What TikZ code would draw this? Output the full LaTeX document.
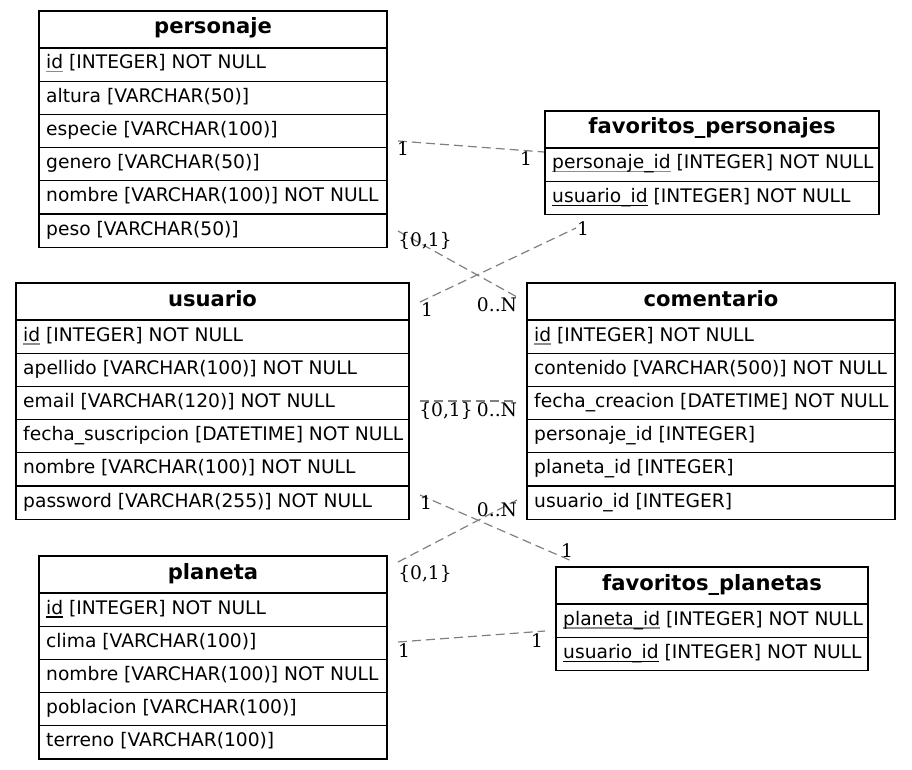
\documentclass[tikz,border=0pt]{standalone}
\usepackage{fontspec}
\setmainfont{DejaVu Sans}
\newfontfamily\lblfont{DejaVu Serif}
\definecolor{edgegray}{HTML}{808080}
\definecolor{ulgray}{HTML}{8C8C8C}
\newcommand\ukey[2][black]{\setbox0\hbox{#2}\rlap{\color{#1}\rule[-3.5pt]{\wd0}{1.1pt}}\box0\relax}
\newcommand\ehead[5]{%
  \node[hdrbox, minimum width=#4pt] (#1) at (#2,#3) {#5};}
\newcommand\erow[6]{%
  \node[rowbox, minimum width=#4pt] (#1) at (#2,{#3+37+#5*33.2}) {};
  \node[rowtext] (#1-t) at ([xshift=7pt,yshift=-21pt]#1.north west) {#6};}
\tikzset{
  hdrbox/.style={draw, line width=1.2pt, anchor=north west, inner sep=0pt, outer sep=0pt,
    minimum height=37pt, text height=23pt, text depth=14pt, font=\fontsize{21.1}{24}\selectfont\bfseries},
  rowbox/.style={draw, line width=1.2pt, anchor=north west, inner sep=0pt, outer sep=0pt,
    minimum height=33.2pt},
  rowtext/.style={anchor=base west, inner sep=0pt, font=\fontsize{18.67}{22}\selectfont},
  rel/.style={draw=edgegray, line width=1.2pt, dash pattern=on 9pt off 5pt},
  lbl/.style={anchor=base, inner sep=0pt, font=\lblfont\fontsize{18.67}{22}\selectfont}
}
\begin{document}
\begin{tikzpicture}[x=1pt,y=-1pt]
\useasboundingbox (0,0) rectangle (912,770);
% personaje
\ehead{per}{39}{11}{348}{personaje}
\erow{per1}{39}{11}{348}{0}{\ukey[ulgray]{id} [INTEGER] NOT NULL}
\erow{per2}{39}{11}{348}{1}{altura [VARCHAR(50)]}
\erow{per3}{39}{11}{348}{2}{especie [VARCHAR(100)]}
\erow{per4}{39}{11}{348}{3}{genero [VARCHAR(50)]}
\erow{per5}{39}{11}{348}{4}{nombre [VARCHAR(100)] NOT NULL}
\erow{per6}{39}{11}{348}{5}{peso [VARCHAR(50)]}
% favoritos_personajes
\ehead{fp}{545}{111}{334}{favoritos\_personajes}
\erow{fp1}{545}{111}{334}{0}{\ukey[ulgray]{personaje\_id} [INTEGER] NOT NULL}
\erow{fp2}{545}{111}{334}{1}{\ukey{usuario\_id} [INTEGER] NOT NULL}
% usuario
\ehead{usu}{16}{283}{393}{usuario}
\erow{usu1}{16}{283}{393}{0}{\ukey[ulgray]{id} [INTEGER] NOT NULL}
\erow{usu2}{16}{283}{393}{1}{apellido [VARCHAR(100)] NOT NULL}
\erow{usu3}{16}{283}{393}{2}{email [VARCHAR(120)] NOT NULL}
\erow{usu4}{16}{283}{393}{3}{fecha\_suscripcion [DATETIME] NOT NULL}
\erow{usu5}{16}{283}{393}{4}{nombre [VARCHAR(100)] NOT NULL}
\erow{usu6}{16}{283}{393}{5}{password [VARCHAR(255)] NOT NULL}
% comentario
\ehead{com}{527}{283}{368}{comentario}
\erow{com1}{527}{283}{368}{0}{\ukey[ulgray]{id} [INTEGER] NOT NULL}
\erow{com2}{527}{283}{368}{1}{contenido [VARCHAR(500)] NOT NULL}
\erow{com3}{527}{283}{368}{2}{fecha\_creacion [DATETIME] NOT NULL}
\erow{com4}{527}{283}{368}{3}{personaje\_id [INTEGER]}
\erow{com5}{527}{283}{368}{4}{planeta\_id [INTEGER]}
\erow{com6}{527}{283}{368}{5}{usuario\_id [INTEGER]}
% planeta
\ehead{pla}{39}{556}{348}{planeta}
\erow{pla1}{39}{556}{348}{0}{\ukey{id} [INTEGER] NOT NULL}
\erow{pla2}{39}{556}{348}{1}{clima [VARCHAR(100)]}
\erow{pla3}{39}{556}{348}{2}{nombre [VARCHAR(100)] NOT NULL}
\erow{pla4}{39}{556}{348}{3}{poblacion [VARCHAR(100)]}
\erow{pla5}{39}{556}{348}{4}{terreno [VARCHAR(100)]}
% favoritos_planetas
\ehead{fpl}{556}{567}{312}{favoritos\_planetas}
\erow{fpl1}{556}{567}{312}{0}{\ukey[ulgray]{planeta\_id} [INTEGER] NOT NULL}
\erow{fpl2}{556}{567}{312}{1}{\ukey{usuario\_id} [INTEGER] NOT NULL}
% edge end points
\coordinate (e1a) at (398,141); \coordinate (e1b) at (544,152);
\coordinate (e2a) at (398,231); \coordinate (e2b) at (517,297);
\coordinate (e3a) at (420,302); \coordinate (e3b) at (576,228);
\coordinate (e4a) at (420,401); \coordinate (e4b) at (517,401);
\coordinate (e5a) at (420,495); \coordinate (e5b) at (574,562);
\coordinate (e6a) at (398,562); \coordinate (e6b) at (517,500);
\coordinate (e7a) at (398,642); \coordinate (e7b) at (545,631);
\draw[rel] (e1a) -- (e1b);
\draw[rel] (e2a) -- (e2b);
\draw[rel] (e3a) -- (e3b);
\draw[rel] (e4a) -- (e4b);
\draw[rel] (e5a) -- (e5b);
\draw[rel] (e6a) -- (e6b);
\draw[rel] (e7a) -- (e7b);
% labels
\node[lbl] (l1a) at (403,156) {1};
\node[lbl] (l1b) at (526,166) {1};
\node[lbl] (l2a) at (425,246) {\{0,1\}};
\node[lbl] (l2b) at (497,311) {0..N};
\node[lbl] (l3a) at (427,316) {1};
\node[lbl] (l3b) at (583,235) {1};
\node[lbl] (l4a) at (446,416) {\{0,1\}};
\node[lbl] (l4b) at (497,416) {0..N};
\node[lbl] (l5a) at (426,509) {1};
\node[lbl] (l5b) at (567,557) {1};
\node[lbl] (l6a) at (425,579) {\{0,1\}};
\node[lbl] (l6b) at (497,516) {0..N};
\node[lbl] (l7a) at (404,657) {1};
\node[lbl] (l7b) at (537,647) {1};
\end{tikzpicture}
\end{document}
